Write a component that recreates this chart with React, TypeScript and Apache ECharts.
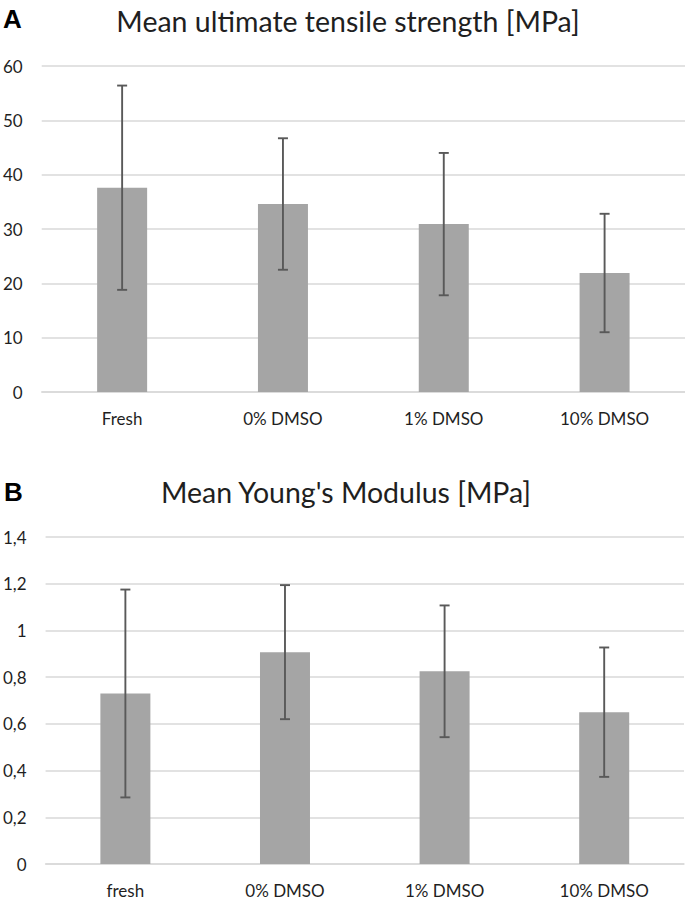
import React, { useEffect, useRef } from "react";
import * as echarts from "echarts";

const categoriesA = ["Fresh", "0% DMSO", "1% DMSO", "10% DMSO"];
const meanUTS = [37.6, 34.6, 30.9, 21.9];
const sdUTS = [18.8, 12.1, 13.1, 10.9];

const categoriesB = ["fresh", "0% DMSO", "1% DMSO", "10% DMSO"];
const meanYM = [0.73, 0.907, 0.825, 0.65];
const sdYM = [0.445, 0.287, 0.282, 0.277];

const titleA = "Mean ultimate tensile strength [MPa]";
const titleB = "Mean Young's Modulus [MPa]";

const FONT = "Lato";
const TEXT = "#1f1f1f";
const GRID = "#d9d9d9";
const BAR = "#a5a5a5";
const ERR = "#595959";

function errRender(params: any, api: any) {
  const x = api.value(0);
  const lo = api.coord([x, api.value(1)]);
  const hi = api.coord([x, api.value(2)]);
  const cw = 5;
  const style = { stroke: ERR, lineWidth: 1.9 };
  return {
    type: "group",
    children: [
      { type: "line", shape: { x1: lo[0], y1: lo[1], x2: hi[0], y2: hi[1] }, style },
      { type: "line", shape: { x1: lo[0] - cw, y1: lo[1], x2: lo[0] + cw, y2: lo[1] }, style },
      { type: "line", shape: { x1: hi[0] - cw, y1: hi[1], x2: hi[0] + cw, y2: hi[1] }, style },
    ],
  };
}

export default function App() {
  const ref = useRef<HTMLDivElement>(null);
  useEffect(() => {
    if (!ref.current) return;
    const chart = echarts.init(ref.current, undefined, { renderer: "svg" });
    const yLabel = {
      fontFamily: FONT,
      fontSize: 17,
      color: TEXT,
      margin: 19,
    };
    const xLabel = { fontFamily: FONT, fontSize: 17, color: TEXT, margin: 18 };
    chart.setOption({
      animation: false,
      backgroundColor: "#ffffff",
      grid: [
        { left: 41, right: 0, top: 66, height: 326 },
        { left: 44, right: 1, top: 537, height: 327 },
      ],
      xAxis: [
        {
          type: "category",
          gridIndex: 0,
          data: categoriesA,
          axisLine: { lineStyle: { color: GRID, width: 1.5 } },
          axisTick: { show: false },
          axisLabel: xLabel,
        },
        {
          type: "category",
          gridIndex: 1,
          data: categoriesB,
          axisLine: { lineStyle: { color: GRID, width: 1.5 } },
          axisTick: { show: false },
          axisLabel: xLabel,
        },
      ],
      yAxis: [
        {
          type: "value",
          gridIndex: 0,
          min: 0,
          max: 60,
          interval: 10,
          axisLine: { show: false },
          axisTick: { show: false },
          splitLine: { lineStyle: { color: GRID, width: 1.5 } },
          axisLabel: yLabel,
        },
        {
          type: "value",
          gridIndex: 1,
          min: 0,
          max: 1.4,
          interval: 0.2,
          axisLine: { show: false },
          axisTick: { show: false },
          splitLine: { lineStyle: { color: GRID, width: 1.5 } },
          axisLabel: {
            ...yLabel,
            formatter: (v: number) => String(Number(v.toFixed(1))).replace(".", ","),
          },
        },
      ],
      series: [
        {
          type: "bar",
          xAxisIndex: 0,
          yAxisIndex: 0,
          data: meanUTS,
          barWidth: 50,
          itemStyle: { color: BAR },
        },
        {
          type: "custom",
          xAxisIndex: 0,
          yAxisIndex: 0,
          renderItem: errRender,
          data: meanUTS.map((m, i) => [i, m - sdUTS[i], m + sdUTS[i]]),
          z: 10,
        },
        {
          type: "bar",
          xAxisIndex: 1,
          yAxisIndex: 1,
          data: meanYM,
          barWidth: 50,
          itemStyle: { color: BAR },
        },
        {
          type: "custom",
          xAxisIndex: 1,
          yAxisIndex: 1,
          renderItem: errRender,
          data: meanYM.map((m, i) => [i, m - sdYM[i], m + sdYM[i]]),
          z: 10,
        },
      ],
      graphic: [
        {
          type: "text",
          x: 3,
          y: 19,
          style: {
            text: "A",
            font: "bold 26px 'Liberation Sans'",
            fill: "#000",
            textVerticalAlign: "middle",
          },
        },
        {
          type: "text",
          x: 4,
          y: 492,
          style: {
            text: "B",
            font: "bold 26px 'Liberation Sans'",
            fill: "#000",
            textVerticalAlign: "middle",
          },
        },
        {
          type: "text",
          x: 348,
          y: 21,
          style: {
            text: titleA,
            font: `28.5px ${FONT}`,
            fill: TEXT,
            textAlign: "center",
            textVerticalAlign: "middle",
          },
        },
        {
          type: "text",
          x: 346,
          y: 492,
          style: {
            text: titleB,
            font: `28.5px ${FONT}`,
            fill: TEXT,
            textAlign: "center",
            textVerticalAlign: "middle",
          },
        },
      ],
    });
    return () => chart.dispose();
  }, []);
  return (
    <div
      ref={ref}
      style={{ position: "absolute", left: 0, top: 0, width: 685, height: 903 }}
    />
  );
}
